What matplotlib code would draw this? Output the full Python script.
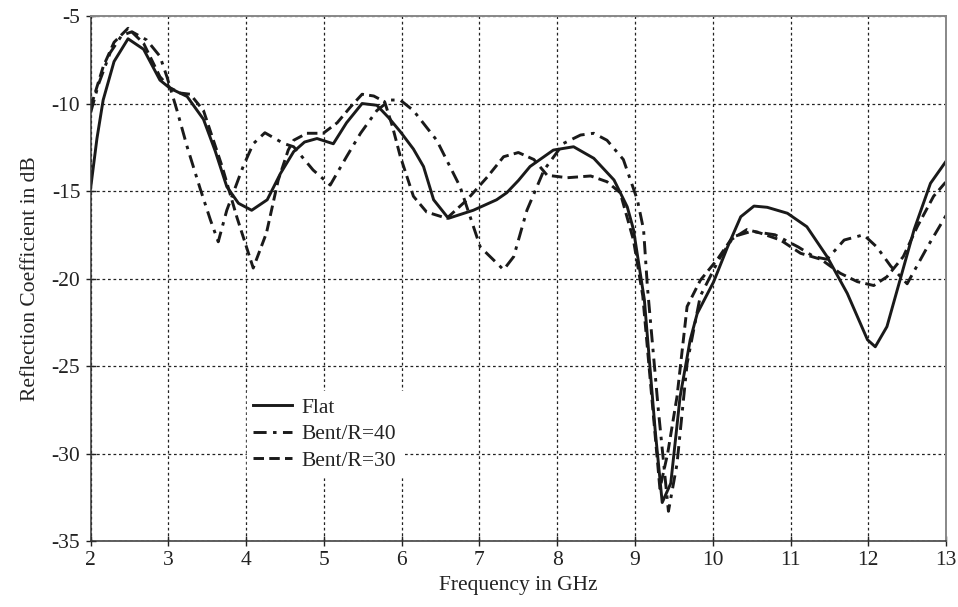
import matplotlib
matplotlib.use("Agg")
import matplotlib.pyplot as plt

# Frequency (GHz) / reflection coefficient (dB) for each configuration
flat_f = [2.0, 2.08, 2.16, 2.3, 2.48, 2.68, 2.89, 3.02, 3.24, 3.45, 3.6, 3.75, 3.9, 4.07,
          4.27, 4.44, 4.61, 4.75, 4.91, 5.12, 5.29, 5.49, 5.68, 5.83, 5.98, 6.15, 6.28,
          6.41, 6.6, 6.92, 7.22, 7.35, 7.5, 7.65, 7.95, 8.21, 8.47, 8.73, 8.9, 8.98, 9.12,
          9.26, 9.35, 9.46, 9.58, 9.71, 9.8, 10.01, 10.19, 10.36, 10.53, 10.7, 10.96,
          11.21, 11.47, 11.73, 11.99, 12.09, 12.24, 12.42, 12.59, 12.8, 13.0]
flat_db = [-14.8, -12.0, -9.8, -7.6, -6.3, -6.9, -8.66, -9.13, -9.6, -10.9, -12.7, -14.75,
           -15.7, -16.1, -15.5, -14.0, -12.75, -12.2, -12.0, -12.3, -11.1, -10.0, -10.1,
           -10.8, -11.6, -12.6, -13.6, -15.5, -16.56, -16.1, -15.5, -15.1, -14.4, -13.6,
           -12.66, -12.47, -13.13, -14.37, -15.9, -17.2, -21.2, -28.7, -32.8, -31.7,
           -26.75, -23.5, -22.0, -20.2, -18.2, -16.47, -15.86, -15.93, -16.27, -17.04,
           -18.75, -20.85, -23.5, -23.9, -22.75, -19.9, -17.2, -14.56, -13.3]

r40_f = [2.0, 2.1, 2.25, 2.4, 2.53, 2.72, 2.89, 2.98, 3.11, 3.24, 3.41, 3.54, 3.64, 3.75,
         3.96, 4.09, 4.24, 4.48, 4.61, 4.86, 5.08, 5.29, 5.47, 5.68, 5.85, 5.98, 6.15,
         6.45, 6.75, 7.01, 7.31, 7.44, 7.61, 7.83, 8.08, 8.3, 8.47, 8.64, 8.85, 9.03,
         9.11, 9.16, 9.3, 9.43, 9.54, 9.67, 9.84, 10.08, 10.27, 10.5, 10.8, 11.1, 11.3,
         11.47, 11.69, 11.94, 12.11, 12.29, 12.5, 12.76, 13.0]
r40_db = [-10.5, -8.9, -7.1, -6.1, -5.9, -6.37, -7.3, -8.47, -10.4, -12.47, -14.9, -16.66,
          -17.9, -16.1, -13.6, -12.3, -11.67, -12.28, -12.47, -13.8, -14.66, -13.04, -11.7,
          -10.4, -9.8, -9.8, -10.4, -12.1, -14.75, -18.2, -19.5, -18.75, -16.1, -13.8,
          -12.28, -11.8, -11.7, -12.1, -13.2, -15.5, -17.2, -20.5, -27.5, -33.3, -30.6,
          -24.85, -21.0, -18.9, -17.6, -17.3, -17.5, -18.2, -18.75, -18.9, -17.8, -17.5,
          -18.2, -19.3, -20.3, -18.2, -16.4]

r30_f = [2.0, 2.16, 2.3, 2.48, 2.68, 2.89, 3.02, 3.15, 3.28, 3.45, 3.69, 3.88, 4.09, 4.26,
         4.41, 4.54, 4.61, 4.78, 4.99, 5.17, 5.34, 5.49, 5.64, 5.78, 5.88, 5.98, 6.15,
         6.32, 6.58, 6.84, 7.1, 7.31, 7.5, 7.7, 7.87, 8.13, 8.43, 8.64, 8.81, 8.98, 9.1,
         9.22, 9.32, 9.42, 9.54, 9.67, 9.84, 10.06, 10.23, 10.44, 10.61, 10.87, 11.13,
         11.39, 11.64, 11.86, 12.07, 12.24, 12.45, 12.63, 12.84, 13.0]
r30_db = [-10.2, -7.9, -6.5, -5.7, -6.56, -8.47, -9.1, -9.4, -9.47, -10.4, -13.6, -16.5,
          -19.4, -17.4, -14.4, -12.66, -12.1, -11.7, -11.7, -11.1, -10.2, -9.47, -9.57,
          -9.9, -11.3, -13.0, -15.3, -16.2, -16.56, -15.5, -14.2, -13.04, -12.8, -13.2,
          -14.1, -14.24, -14.14, -14.47, -15.1, -17.8, -21.0, -27.0, -32.0, -30.0, -26.75,
          -21.6, -20.1, -18.9, -17.8, -17.2, -17.4, -17.8, -18.56, -18.9, -19.7, -20.18,
          -20.4, -19.9, -18.75, -17.04, -15.3, -14.47]

x_ticks = list(range(2, 14))
y_ticks = [-35, -30, -25, -20, -15, -10, -5]

plt.rcParams["font.family"] = ["Liberation Serif", "DejaVu Serif"]
plt.rcParams["font.size"] = 15.5
plt.rcParams["axes.unicode_minus"] = False

fig = plt.figure(figsize=(9.58, 6.07), dpi=100)
ax = fig.add_axes([0.0947, 0.1087, 0.8928, 0.8649])

ink = "#1a1a1a"
ax.plot(flat_f, flat_db, color=ink, lw=2.1, ls="-", label="Flat")
ax.plot(r40_f, r40_db, color=ink, lw=2.1, ls=(0, (4.5, 2.2, 1.2, 2.2)), label="Bent/R=40")
ax.plot(r30_f, r30_db, color=ink, lw=2.1, ls=(0, (3.6, 1.8)), label="Bent/R=30")

ax.set_xlim(2, 13)
ax.set_ylim(-35, -5)
ax.set_xticks(x_ticks)
ax.set_yticks(y_ticks)
ax.grid(True, color="#222222", lw=0.9, ls=(0, (2.2, 2.2)))
ax.tick_params(direction="inout", length=7, width=1.0, colors="#222222",
               labelcolor="#222222", pad=4)

for side in ("left", "bottom"):
    ax.spines[side].set_color("#333333")
    ax.spines[side].set_linewidth(1.1)
for side in ("top", "right"):
    ax.spines[side].set_color("#888888")
    ax.spines[side].set_linewidth(1.4)

ax.set_xlabel("Frequency in GHz", color="#222222", labelpad=4)
ax.set_ylabel("Reflection Coefficient in dB", color="#222222", labelpad=8)

leg = ax.legend(loc="upper left", bbox_to_anchor=(0.1827, 0.2857), borderaxespad=0,
                frameon=True, fancybox=False, framealpha=1.0, edgecolor="white",
                handlelength=1.8, handletextpad=0.45, labelspacing=0.3, borderpad=0.3,
                fontsize=15.5)
for t in leg.get_texts():
    t.set_color("#222222")

fig.savefig("out.png", dpi=100)
